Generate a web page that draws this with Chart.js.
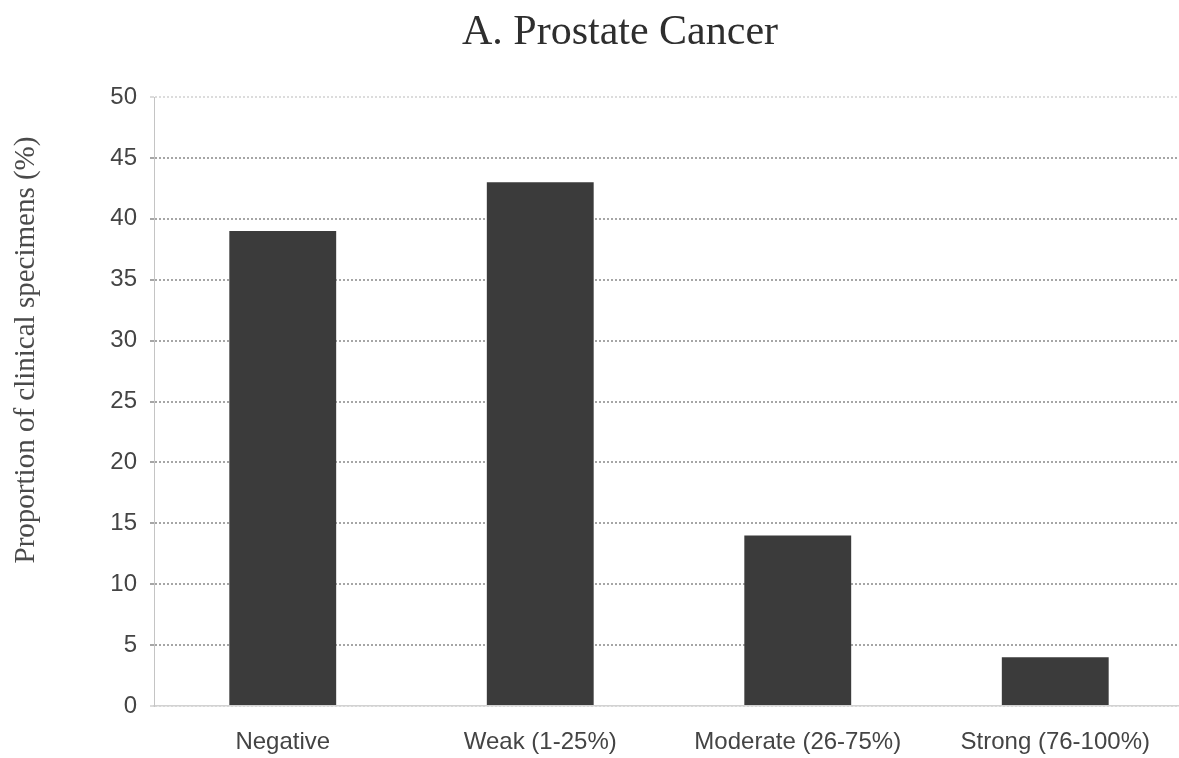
<!DOCTYPE html>
<html>
<head>
<meta charset="utf-8">
<script src="https://cdn.jsdelivr.net/npm/chart.js@4.4.1/dist/chart.umd.min.js"></script>
<style>
  html, body { margin: 0; padding: 0; background: #fff; overflow: hidden; }
  #wrap { position: relative; width: 1190px; height: 758px; }
</style>
</head>
<body>
<div id="wrap"><canvas id="chart"></canvas></div>
<script>
// Staining intensity categories and share of specimens in each (%)
const categories = ['Negative', 'Weak (1-25%)', 'Moderate (26-75%)', 'Strong (76-100%)'];
const proportions = [39, 43, 14, 4];
const yTicks = [0, 5, 10, 15, 20, 25, 30, 35, 40, 45, 50];
const chartTitle = 'A. Prostate Cancer';
const yAxisTitle = 'Proportion of clinical specimens (%)';

// Title and rotated axis caption, drawn directly on the canvas
const captions = {
  id: 'captions',
  afterDraw(chart) {
    const ctx = chart.ctx;
    ctx.save();
    ctx.fillStyle = '#2e2e2e';
    ctx.font = '42px "Liberation Serif", "Times New Roman", serif';
    ctx.textAlign = 'center';
    ctx.textBaseline = 'alphabetic';
    ctx.fillText(chartTitle, 620, 44);

    ctx.translate(26, 350);
    ctx.rotate(-Math.PI / 2);
    ctx.font = '29px "Liberation Serif", "Times New Roman", serif';
    ctx.textBaseline = 'middle';
    ctx.fillStyle = '#4a4a4a';
    ctx.fillText(yAxisTitle, 0, 0);
    ctx.restore();
  }
};

new Chart(document.getElementById('chart'), {
  type: 'bar',
  data: {
    labels: categories,
    datasets: [{
      data: proportions,
      backgroundColor: '#3b3b3b',
      borderWidth: 0,
      barPercentage: 0.415,
      categoryPercentage: 1.0
    }]
  },
  options: {
    responsive: true,
    maintainAspectRatio: false,
    animation: false,
    layout: { padding: { top: 97, right: 6, left: 0, bottom: 0 } },
    plugins: {
      legend: { display: false },
      title: { display: false },
      tooltip: { enabled: false }
    },
    scales: {
      x: {
        grid: { display: false, drawTicks: false },
        border: { display: true, color: '#d2d2d2', width: 1.5 },
        ticks: {
          color: '#444444',
          padding: 22,
          font: { family: '"Liberation Sans", Arial, sans-serif', size: 24 }
        },
        afterFit(scale) { scale.height = 52; }
      },
      y: {
        min: 0,
        max: 50,
        afterBuildTicks(scale) { scale.ticks = yTicks.map(v => ({ value: v })); },
        grid: {
          color: ctx => (ctx.tick && (ctx.tick.value === 0 || ctx.tick.value === 50)) ? '#dcdcdc' : '#a6a6a6',
          lineWidth: 2,
          drawTicks: true,
          tickLength: 4
        },
        border: { display: true, color: '#c4c4c4', width: 1, dash: [2, 2] },
        ticks: {
          color: '#444444',
          padding: 13,
          font: { family: '"Liberation Sans", Arial, sans-serif', size: 24 }
        },
        afterFit(scale) { scale.width = 154; }
      }
    }
  },
  plugins: [captions]
});
</script>
</body>
</html>
